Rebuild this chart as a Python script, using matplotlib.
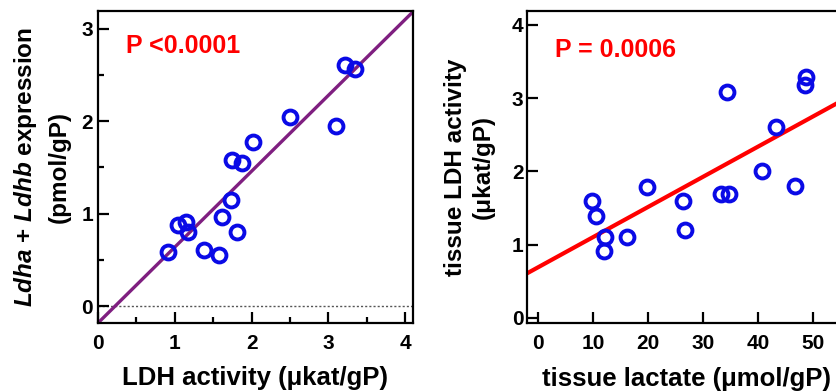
"""
plot.py

Two Prism-style scatter panels with regression lines:
- Ldha + Ldhb expression vs LDH activity
- tissue LDH activity vs tissue lactate
"""

import matplotlib
matplotlib.use("Agg")
import matplotlib.pyplot as plt
import numpy as np
from matplotlib.ticker import MultipleLocator

plt.rcParams["font.family"] = ["Liberation Sans", "DejaVu Sans"]
plt.rcParams["font.weight"] = "bold"
plt.rcParams["mathtext.fontset"] = "custom"
plt.rcParams["mathtext.it"] = "Liberation Sans:italic:bold"
plt.rcParams["mathtext.rm"] = "Liberation Sans:bold"

# left panel: LDH activity (ukat/gP) vs Ldha + Ldhb expression (pmol/gP)
ldh_activity = [0.91, 1.04, 1.15, 1.17, 1.38, 1.57, 1.61, 1.73, 1.81,
                1.74, 1.88, 2.02, 2.50, 3.10, 3.21, 3.35]
ldh_expression = [0.59, 0.88, 0.91, 0.80, 0.61, 0.55, 0.97, 1.15, 0.80,
                  1.58, 1.55, 1.78, 2.04, 1.95, 2.61, 2.56]
left_fit = (0.82, -0.18)  # slope, intercept
left_p = "P <0.0001"

# right panel: tissue lactate (umol/gP) vs tissue LDH activity (ukat/gP)
tissue_lactate = [9.9, 10.5, 12.2, 12.0, 16.2, 19.9, 26.4, 26.8, 33.2,
                  34.7, 34.3, 40.7, 43.3, 46.7, 48.7, 48.5]
tissue_ldh = [1.60, 1.39, 1.10, 0.91, 1.10, 1.79, 1.60, 1.20, 1.69,
              1.69, 3.09, 2.00, 2.60, 1.80, 3.29, 3.18]
right_fit = (0.0412, 0.69)
right_p = "P = 0.0006"

W, H = 837, 391
BLUE = "#0a0ae6"


def px_axes(fig, x0, y0, x1, y1):
    """Add axes from pixel box (top-left origin)."""
    return fig.add_axes([x0 / W, 1 - y1 / H, (x1 - x0) / W, (y1 - y0) / H])


def style_axes(ax, size, ypad):
    for s in ax.spines.values():
        s.set_linewidth(1.6)
    ax.tick_params(which="major", direction="in", length=8, width=1.6,
                   labelsize=size)
    ax.tick_params(which="minor", direction="in", length=4.5, width=1.6)
    ax.tick_params(axis="x", which="major", pad=8)
    ax.tick_params(axis="y", which="major", pad=ypad)
    for lab in ax.get_xticklabels() + ax.get_yticklabels():
        lab.set_fontweight("bold")


def left_panel(fig):
    ax = px_axes(fig, 98, 11, 413, 323)
    ax.set_xlim(0, 4.1)
    ax.set_ylim(-0.18, 3.19)
    ax.axhline(0, color="#555555", lw=1, ls=(0, (1.5, 1.5)), zorder=1)
    xs = np.array([0, 4.1])
    ax.plot(xs, left_fit[0] * xs + left_fit[1], color="#7f1f80", lw=2.4,
            zorder=2)
    ax.plot(ldh_activity, ldh_expression, "o", mfc="none", mec=BLUE,
            ms=10, mew=2.8, zorder=3)
    ax.xaxis.set_major_locator(MultipleLocator(1))
    ax.xaxis.set_minor_locator(MultipleLocator(0.5))
    ax.yaxis.set_major_locator(MultipleLocator(1))
    ax.yaxis.set_minor_locator(MultipleLocator(0.5))
    style_axes(ax, 15, 3.5)
    ax.text(126 / W, 1 - 53 / H, left_p, transform=fig.transFigure,
            color="red", fontsize=18, fontweight="bold")
    ax.set_xlabel("LDH activity (μkat/gP)", fontsize=18.5, fontweight="bold")
    ax.xaxis.set_label_coords(0.5, -0.138)
    ax.set_ylabel("$\\mathit{Ldha}$ + $\\mathit{Ldhb}$ expression\n(pmol/gP)",
                  fontsize=17.5, fontweight="bold", linespacing=1.5)
    ax.yaxis.set_label_coords(-0.085, 0.5)


def right_panel(fig):
    ax = px_axes(fig, 527, 11, 846, 323)
    ax.set_xlim(-2, 56)
    ax.set_ylim(-0.07, 4.19)
    xs = np.array([-2, 56])
    ax.plot(xs, right_fit[0] * xs + right_fit[1], color="red", lw=3,
            zorder=2)
    ax.plot(tissue_lactate, tissue_ldh, "o", mfc="none", mec=BLUE,
            ms=10, mew=2.8, zorder=3)
    ax.xaxis.set_major_locator(MultipleLocator(10))
    ax.yaxis.set_major_locator(MultipleLocator(1))
    style_axes(ax, 15, 2.5)
    ax.text(555 / W, 1 - 57 / H, right_p, transform=fig.transFigure,
            color="red", fontsize=18, fontweight="bold")
    ax.set_xlabel("tissue lactate (μmol/gP)", fontsize=18.5, fontweight="bold")
    ax.xaxis.set_label_coords(0.5, -0.141)
    ax.set_ylabel("tissue LDH activity\n(μkat/gP)", fontsize=17.5,
                  fontweight="bold", linespacing=1.3)
    ax.yaxis.set_label_coords(-0.1, 0.5)


def main() -> None:
    fig = plt.figure(figsize=(W / 100, H / 100), dpi=100)
    left_panel(fig)
    right_panel(fig)
    fig.savefig("out.png", dpi=100)


if __name__ == "__main__":
    main()
